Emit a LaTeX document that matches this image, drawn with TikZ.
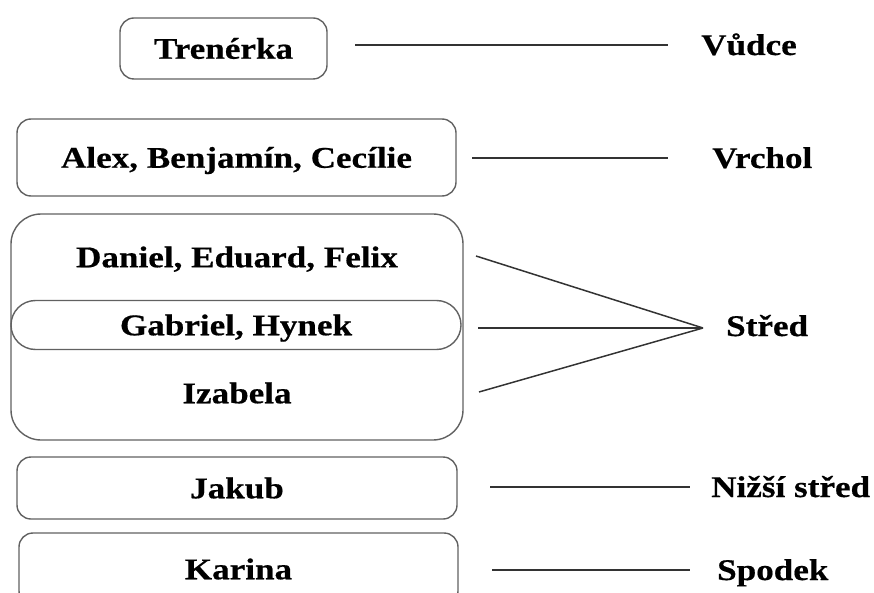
\documentclass[tikz,border=0pt]{standalone}
\usepackage{fontspec}
\setmainfont[FakeStretch=1.17]{Liberation Serif}
\setmainfont[FakeStretch=1.17,BoldFeatures={FakeBold=0.5}]{Liberation Serif}
\usetikzlibrary{shapes.misc}
\begin{document}
\begin{tikzpicture}[x=1pt,y=-1pt,
  box/.style={draw=black!62, line width=1.4pt, rounded corners=14pt, inner sep=0pt,
    font=\fontsize{30}{36}\selectfont\bfseries, text height=20.5pt, text depth=0pt},
  bigbox/.style={draw=black!62, line width=1.4pt, rounded corners=30pt, inner sep=0pt},
  stadium/.style={draw=black!62, line width=1.4pt, rounded rectangle, inner sep=0pt,
    font=\fontsize{30}{36}\selectfont\bfseries, text height=20.5pt, text depth=0pt},
  txt/.style={font=\fontsize{30}{36}\selectfont\bfseries, inner sep=0pt, text height=20.5pt, text depth=0pt},
  lbl/.style={font=\fontsize{30}{36}\selectfont\bfseries, inner sep=0pt, anchor=base west},
  link/.style={draw=black!80, line width=1.5pt}]
\useasboundingbox (0,0) rectangle (874,593);
\clip (0,0) rectangle (874,593);

% boxes
\node[box, minimum width=207pt, minimum height=61pt] (trainer) at (223.5,48.5) {Trenérka};
\node[box, minimum width=439pt, minimum height=77pt] (top) at (236.5,157.5) {Alex, Benjamín, Cecílie};
\node[bigbox, minimum width=452pt, minimum height=226pt] (middle) at (237,327) {};
\node[txt] (daniel) at (237,257) {Daniel, Eduard, Felix};
\node[stadium, minimum width=450pt, minimum height=49pt] (gabriel) at (236,325) {Gabriel, Hynek};
\node[txt] (izabela) at (237,393) {Izabela};
\node[box, minimum width=440pt, minimum height=62pt] (jakub) at (237,488) {Jakub};
\node[box, minimum width=439pt, minimum height=72pt] (karina) at (238.5,569) {Karina};

% labels
\node[lbl] (vudce) at (701,55) {Vůdce};
\node[lbl] (vrchol) at (712,168) {Vrchol};
\node[lbl] (stred) at (726,336) {Střed};
\node[lbl] (nizsi) at (711,497) {Nižší střed};
\node[lbl] (spodek) at (717,580) {Spodek};

% connector ends
\coordinate (a1) at (355,45);  \coordinate (a2) at (668,45);
\coordinate (b1) at (472,158); \coordinate (b2) at (668,158);
\coordinate (c1) at (476,256); \coordinate (c2) at (478,328); \coordinate (c3) at (479,392);
\coordinate (cm) at (703,328);
\coordinate (d1) at (490,487); \coordinate (d2) at (690,487);
\coordinate (e1) at (492,570); \coordinate (e2) at (690,570);

\draw[link] (a1) -- (a2);
\draw[link] (b1) -- (b2);
\draw[link] (c1) -- (cm);
\draw[link] (c2) -- (cm);
\draw[link] (c3) -- (cm);
\draw[link] (d1) -- (d2);
\draw[link] (e1) -- (e2);
\end{tikzpicture}
\end{document}
